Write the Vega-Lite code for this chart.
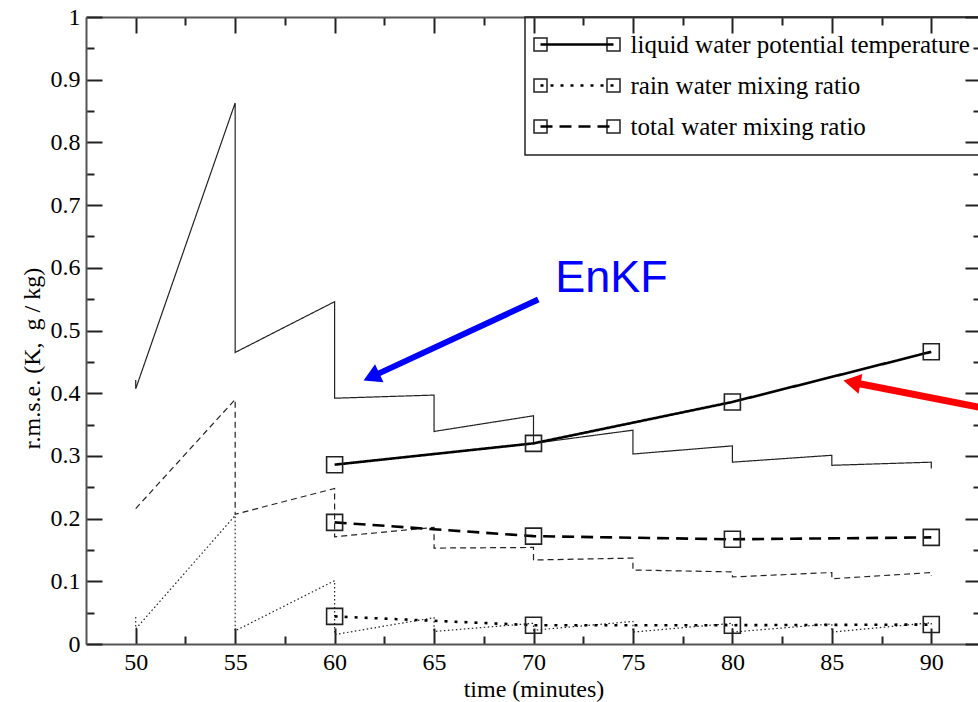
{
  "$schema": "https://vega.github.io/schema/vega-lite/v6.json",
  "width": 895,
  "height": 627,
  "autosize": "none",
  "padding": {"left": 86, "top": 17, "right": 0, "bottom": 58},
  "background": "white",
  "config": {"view": {"stroke": null}},
  "datasets": {
    "enkf": [
      {"variable": "liquid water potential temperature", "t": 50, "rmse": 0.421},
      {"variable": "liquid water potential temperature", "t": 50, "rmse": 0.407},
      {"variable": "liquid water potential temperature", "t": 55, "rmse": 0.863},
      {"variable": "liquid water potential temperature", "t": 55, "rmse": 0.465},
      {"variable": "liquid water potential temperature", "t": 60, "rmse": 0.546},
      {"variable": "liquid water potential temperature", "t": 60, "rmse": 0.392},
      {"variable": "liquid water potential temperature", "t": 65, "rmse": 0.397},
      {"variable": "liquid water potential temperature", "t": 65, "rmse": 0.339},
      {"variable": "liquid water potential temperature", "t": 70, "rmse": 0.364},
      {"variable": "liquid water potential temperature", "t": 70, "rmse": 0.320},
      {"variable": "liquid water potential temperature", "t": 75, "rmse": 0.341},
      {"variable": "liquid water potential temperature", "t": 75, "rmse": 0.303},
      {"variable": "liquid water potential temperature", "t": 80, "rmse": 0.316},
      {"variable": "liquid water potential temperature", "t": 80, "rmse": 0.290},
      {"variable": "liquid water potential temperature", "t": 85, "rmse": 0.301},
      {"variable": "liquid water potential temperature", "t": 85, "rmse": 0.285},
      {"variable": "liquid water potential temperature", "t": 90, "rmse": 0.290},
      {"variable": "liquid water potential temperature", "t": 90, "rmse": 0.280},
      {"variable": "rain water mixing ratio", "t": 50, "rmse": 0.043},
      {"variable": "rain water mixing ratio", "t": 50, "rmse": 0.024},
      {"variable": "rain water mixing ratio", "t": 55, "rmse": 0.205},
      {"variable": "rain water mixing ratio", "t": 55, "rmse": 0.021},
      {"variable": "rain water mixing ratio", "t": 60, "rmse": 0.101},
      {"variable": "rain water mixing ratio", "t": 60, "rmse": 0.015},
      {"variable": "rain water mixing ratio", "t": 65, "rmse": 0.042},
      {"variable": "rain water mixing ratio", "t": 65, "rmse": 0.020},
      {"variable": "rain water mixing ratio", "t": 70, "rmse": 0.033},
      {"variable": "rain water mixing ratio", "t": 70, "rmse": 0.022},
      {"variable": "rain water mixing ratio", "t": 75, "rmse": 0.036},
      {"variable": "rain water mixing ratio", "t": 75, "rmse": 0.019},
      {"variable": "rain water mixing ratio", "t": 80, "rmse": 0.033},
      {"variable": "rain water mixing ratio", "t": 80, "rmse": 0.019},
      {"variable": "rain water mixing ratio", "t": 85, "rmse": 0.032},
      {"variable": "rain water mixing ratio", "t": 85, "rmse": 0.019},
      {"variable": "rain water mixing ratio", "t": 90, "rmse": 0.034},
      {"variable": "rain water mixing ratio", "t": 90, "rmse": 0.031},
      {"variable": "total water mixing ratio", "t": 50, "rmse": 0.216},
      {"variable": "total water mixing ratio", "t": 55, "rmse": 0.390},
      {"variable": "total water mixing ratio", "t": 55, "rmse": 0.207},
      {"variable": "total water mixing ratio", "t": 60, "rmse": 0.248},
      {"variable": "total water mixing ratio", "t": 60, "rmse": 0.171},
      {"variable": "total water mixing ratio", "t": 65, "rmse": 0.186},
      {"variable": "total water mixing ratio", "t": 65, "rmse": 0.153},
      {"variable": "total water mixing ratio", "t": 70, "rmse": 0.154},
      {"variable": "total water mixing ratio", "t": 70, "rmse": 0.134},
      {"variable": "total water mixing ratio", "t": 75, "rmse": 0.137},
      {"variable": "total water mixing ratio", "t": 75, "rmse": 0.118},
      {"variable": "total water mixing ratio", "t": 80, "rmse": 0.115},
      {"variable": "total water mixing ratio", "t": 80, "rmse": 0.107},
      {"variable": "total water mixing ratio", "t": 85, "rmse": 0.114},
      {"variable": "total water mixing ratio", "t": 85, "rmse": 0.104},
      {"variable": "total water mixing ratio", "t": 90, "rmse": 0.114},
      {"variable": "total water mixing ratio", "t": 90, "rmse": 0.109}
    ],
    "other": [
      {"variable": "liquid water potential temperature", "t": 60, "rmse": 0.286},
      {"variable": "liquid water potential temperature", "t": 70, "rmse": 0.320},
      {"variable": "liquid water potential temperature", "t": 80, "rmse": 0.386},
      {"variable": "liquid water potential temperature", "t": 90, "rmse": 0.466},
      {"variable": "rain water mixing ratio", "t": 60, "rmse": 0.044},
      {"variable": "rain water mixing ratio", "t": 70, "rmse": 0.030},
      {"variable": "rain water mixing ratio", "t": 80, "rmse": 0.030},
      {"variable": "rain water mixing ratio", "t": 90, "rmse": 0.031},
      {"variable": "total water mixing ratio", "t": 60, "rmse": 0.194},
      {"variable": "total water mixing ratio", "t": 70, "rmse": 0.172},
      {"variable": "total water mixing ratio", "t": 80, "rmse": 0.167},
      {"variable": "total water mixing ratio", "t": 90, "rmse": 0.170}
    ],
    "bluearrow": [{"x": 70.24, "y": 0.5495, "x2": 61.85, "y2": 0.426}],
    "redarrow": [{"x": 93.0, "y": 0.374, "x2": 86.01, "y2": 0.4175}],
    "note": [{"x": 71.09, "y": 0.5607, "label": "EnKF"}]
  },
  "resolve": {"axis": {"x": "independent", "y": "independent"}, "scale": {"strokeDash": "independent"}},
  "layer": [
    {
      "data": {"name": "enkf"},
      "mark": {"type": "line", "strokeWidth": 1.2, "color": "#222", "clip": false},
      "encoding": {
        "x": {"field": "t", "type": "quantitative",
          "scale": {"domain": [47.5, 92.5], "nice": false, "zero": false},
          "axis": {"orient": "bottom", "values": [50, 52.5, 55, 57.5, 60, 62.5, 65, 67.5, 70, 72.5, 75, 77.5, 80, 82.5, 85, 87.5, 90],
            "tickSize": {"condition": {"test": "datum.value % 5 === 0", "value": -16}, "value": -8},
            "labelExpr": "datum.value % 5 === 0 ? format(datum.value, 'd') : ''",
            "labelFont": "Liberation Serif", "labelFontSize": 24, "labelColor": "#000", "labelPadding": 22,
            "labelFlush": false, "labelOverlap": false,
            "title": "time (minutes)", "titleFont": "Liberation Serif", "titleFontSize": 24, "titleFontWeight": "normal", "titleColor": "#000", "titlePadding": -5,
            "domainColor": "#555", "domainWidth": 2, "tickColor": "#222", "tickWidth": 2, "grid": false}},
        "y": {"field": "rmse", "type": "quantitative",
          "scale": {"domain": [0, 1], "nice": false},
          "axis": {"orient": "left", "values": [0, 0.05, 0.1, 0.15, 0.2, 0.25, 0.3, 0.35, 0.4, 0.45, 0.5, 0.55, 0.6, 0.65, 0.7, 0.75, 0.8, 0.85, 0.9, 0.95, 1],
            "tickSize": {"condition": {"test": "round(datum.value * 100) % 10 === 0", "value": -16}, "value": -8},
            "labelExpr": "round(datum.value * 100) % 10 === 0 ? format(datum.value, '~g') : ''",
            "labelFont": "Liberation Serif", "labelFontSize": 24, "labelColor": "#000", "labelPadding": 22,
            "labelFlush": false, "labelOverlap": false,
            "title": "r.m.s.e. (K,\u00a0 g / kg)", "titleFont": "Liberation Serif", "titleFontSize": 24, "titleFontWeight": "normal", "titleColor": "#000", "titlePadding": 6, "titleY": 341,
            "domainColor": "#555", "domainWidth": 2, "tickColor": "#222", "tickWidth": 2, "grid": false}},
        "strokeDash": {"field": "variable", "type": "nominal",
          "scale": {"domain": ["liquid water potential temperature", "rain water mixing ratio", "total water mixing ratio"], "range": [[1, 0], [1.5, 2.5], [6, 4]]},
          "legend": null},
        "order": {"value": null}
      }
    },
    {
      "data": {"name": "other"},
      "mark": {"type": "line", "strokeWidth": 2.6, "color": "#000", "clip": false},
      "encoding": {
        "x": {"field": "t", "type": "quantitative",
          "scale": {"domain": [47.5, 92.5], "nice": false, "zero": false},
          "axis": {"orient": "top", "values": [50, 52.5, 55, 57.5, 60, 62.5, 65, 67.5, 70, 72.5, 75, 77.5, 80, 82.5, 85, 87.5, 90],
            "tickSize": {"condition": {"test": "datum.value % 5 === 0", "value": -16}, "value": -8},
            "labels": false, "title": null,
            "domainColor": "#555", "domainWidth": 2, "tickColor": "#222", "tickWidth": 2, "grid": false}},
        "y": {"field": "rmse", "type": "quantitative",
          "scale": {"domain": [0, 1], "nice": false},
          "axis": {"orient": "right", "values": [0, 0.05, 0.1, 0.15, 0.2, 0.25, 0.3, 0.35, 0.4, 0.45, 0.5, 0.55, 0.6, 0.65, 0.7, 0.75, 0.8, 0.85, 0.9, 0.95, 1],
            "tickSize": {"condition": {"test": "round(datum.value * 100) % 10 === 0", "value": -16}, "value": -8},
            "labels": false, "title": null,
            "domainColor": "#555", "domainWidth": 2, "tickColor": "#222", "tickWidth": 2, "grid": false}},
        "strokeDash": {"field": "variable", "type": "nominal",
          "scale": {"domain": ["liquid water potential temperature", "rain water mixing ratio", "total water mixing ratio"], "range": [[1, 0], [3, 7], [12, 7]]},
          "legend": {"orient": "none", "legendX": 439, "legendY": 0, "title": null, "padding": 15,
            "strokeColor": "#222", "symbolType": "M-5.615,0L5.615,0", "symbolSize": 169,
            "symbolStrokeWidth": 2.5, "symbolStrokeColor": "#000", "symbolFillColor": "transparent",
            "symbolOffset": 24.5, "labelOffset": 41, "labelFont": "Liberation Serif", "labelFontSize": 25,
            "labelColor": "#000", "labelLimit": 600, "rowPadding": 15,
            "encode": {"legend": {"update": {"strokeWidth": {"value": 1.5}}}}}}
      }
    },
    {
      "data": {"name": "other"},
      "mark": {"type": "point", "shape": "square", "size": 256, "filled": false, "stroke": "#222", "strokeWidth": 1.6, "clip": false},
      "encoding": {
        "x": {"field": "t", "type": "quantitative", "scale": {"domain": [47.5, 92.5], "nice": false, "zero": false}, "axis": null},
        "y": {"field": "rmse", "type": "quantitative", "scale": {"domain": [0, 1], "nice": false}, "axis": null},
        "opacity": {"field": "variable", "type": "ordinal",
          "scale": {"domain": ["liquid water potential temperature", "rain water mixing ratio", "total water mixing ratio"], "range": [1, 1, 1]},
          "legend": {"orient": "none", "legendX": 439, "legendY": 0, "title": null, "padding": 15,
            "symbolType": "M-6.615,-1L-4.615,-1L-4.615,1L-6.615,1ZM4.615,-1L6.615,-1L6.615,1L4.615,1Z",
            "symbolSize": 169, "symbolStrokeWidth": 1.5, "symbolStrokeColor": "#222", "symbolFillColor": "transparent",
            "symbolOffset": 24.5, "labelOffset": 41, "labelFont": "Liberation Serif", "labelFontSize": 25,
            "labelOpacity": 0, "labelLimit": 600, "rowPadding": 15}}
      }
    },
    {
      "data": {"name": "bluearrow"},
      "mark": {"type": "rule", "color": "#0000ff", "strokeWidth": 6, "clip": false},
      "encoding": {
        "x": {"field": "x", "type": "quantitative", "scale": {"domain": [47.5, 92.5], "nice": false, "zero": false}, "axis": null},
        "y": {"field": "y", "type": "quantitative", "scale": {"domain": [0, 1], "nice": false}, "axis": null},
        "x2": {"field": "x2"},
        "y2": {"field": "y2"}
      }
    },
    {
      "data": {"name": "bluearrow"},
      "mark": {"type": "point", "shape": "triangle-up", "size": 400, "filled": true, "color": "#0000ff", "opacity": 1, "angle": 245.1, "clip": false},
      "encoding": {
        "x": {"field": "x2", "type": "quantitative", "scale": {"domain": [47.5, 92.5], "nice": false, "zero": false}, "axis": null},
        "y": {"field": "y2", "type": "quantitative", "scale": {"domain": [0, 1], "nice": false}, "axis": null}
      }
    },
    {
      "data": {"name": "redarrow"},
      "mark": {"type": "rule", "color": "#ff0000", "strokeWidth": 7, "clip": false},
      "encoding": {
        "x": {"field": "x", "type": "quantitative", "scale": {"domain": [47.5, 92.5], "nice": false, "zero": false}, "axis": null},
        "y": {"field": "y", "type": "quantitative", "scale": {"domain": [0, 1], "nice": false}, "axis": null},
        "x2": {"field": "x2"},
        "y2": {"field": "y2"}
      }
    },
    {
      "data": {"name": "redarrow"},
      "mark": {"type": "point", "shape": "triangle-up", "size": 400, "filled": true, "color": "#ff0000", "opacity": 1, "angle": 281.15, "clip": false},
      "encoding": {
        "x": {"field": "x2", "type": "quantitative", "scale": {"domain": [47.5, 92.5], "nice": false, "zero": false}, "axis": null},
        "y": {"field": "y2", "type": "quantitative", "scale": {"domain": [0, 1], "nice": false}, "axis": null}
      }
    },
    {
      "data": {"name": "note"},
      "mark": {"type": "text", "font": "Liberation Sans", "fontSize": 45, "color": "#0000ff", "align": "left", "baseline": "alphabetic", "clip": false},
      "encoding": {
        "x": {"field": "x", "type": "quantitative", "scale": {"domain": [47.5, 92.5], "nice": false, "zero": false}, "axis": null},
        "y": {"field": "y", "type": "quantitative", "scale": {"domain": [0, 1], "nice": false}, "axis": null},
        "text": {"field": "label"}
      }
    }
  ]
}
